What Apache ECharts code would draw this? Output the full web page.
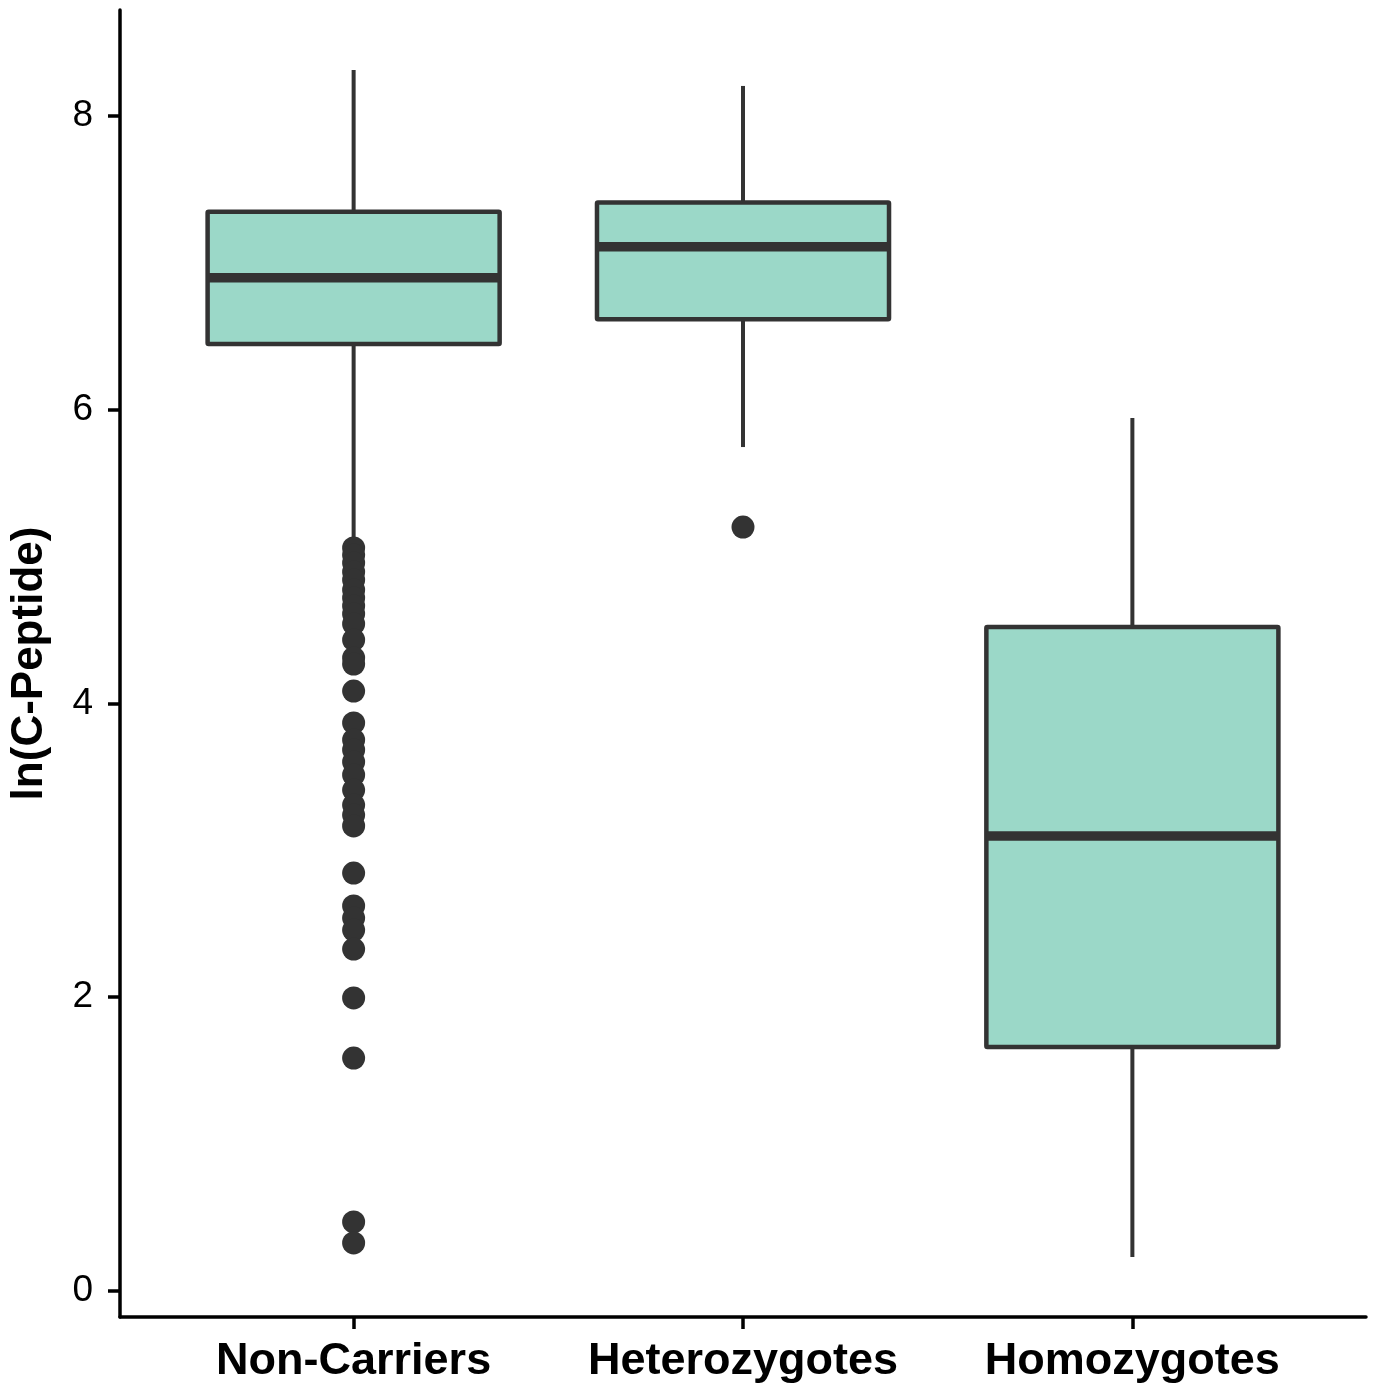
<!DOCTYPE html>
<html>
<head>
<meta charset="utf-8">
<script src="https://cdn.jsdelivr.net/npm/echarts@6/dist/echarts.min.js"></script>
<style>
html,body{margin:0;padding:0;background:#fff;}
#chart{width:1374px;height:1386px;}
</style>
</head>
<body>
<div id="chart"></div>
<script>
// ---- data ----
var categories = ['Non-Carriers', 'Heterozygotes', 'Homozygotes'];
// [lower whisker, Q1, median, Q3, upper whisker]
var boxNonCarriers  = [5.12, 6.447, 6.898, 7.347, 8.312];
var boxHeterozygotes = [5.745, 6.615, 7.109, 7.410, 8.203];
var boxHomozygotes  = [0.231, 1.661, 3.097, 4.520, 5.943];
var outliersNonCarriers = [5.058, 5.010, 4.956, 4.895, 4.840, 4.772, 4.718, 4.663, 4.609, 4.541,
  4.432, 4.309, 4.268, 4.084, 3.867, 3.751, 3.683, 3.601, 3.513, 3.410, 3.308, 3.240, 3.166,
  2.845, 2.621, 2.539, 2.457, 2.328, 1.995, 1.586, 0.470, 0.327];
var outliersHeterozygotes = [5.20];
var outliersHomozygotes = [];
var yTicks = [0, 2, 4, 6, 8];
var xTicks = [1, 2, 3];

var boxes = [boxNonCarriers, boxHeterozygotes, boxHomozygotes];
var outlierSets = [outliersNonCarriers, outliersHeterozygotes, outliersHomozygotes];

var boxData = boxes.map(function (b, i) { return [i + 1].concat(b); });
var outlierData = [];
outlierSets.forEach(function (set, i) {
  set.forEach(function (v) { outlierData.push([i + 1, v]); });
});

var dark = '#333333';
var fill = '#9bd8c8';

function renderBox(params, api) {
  var x = api.value(0);
  var lo = api.coord([x, api.value(1)]);
  var q1 = api.coord([x, api.value(2)]);
  var med = api.coord([x, api.value(3)]);
  var q3 = api.coord([x, api.value(4)]);
  var hi = api.coord([x, api.value(5)]);
  var w = api.size([1, 0])[0] * 0.75;
  var cx = q1[0];
  return {
    type: 'group',
    children: [
      { type: 'line', shape: { x1: cx, y1: q3[1], x2: cx, y2: hi[1] },
        style: { stroke: dark, lineWidth: 4 } },
      { type: 'line', shape: { x1: cx, y1: q1[1], x2: cx, y2: lo[1] },
        style: { stroke: dark, lineWidth: 4 } },
      { type: 'rect', shape: { x: cx - w / 2, y: q3[1], width: w, height: q1[1] - q3[1], r: 1 },
        style: { fill: fill, stroke: dark, lineWidth: 4.5 } },
      { type: 'line', shape: { x1: cx - w / 2, y1: med[1], x2: cx + w / 2, y2: med[1] },
        style: { stroke: dark, lineWidth: 9.5 } }
    ]
  };
}

var chart = echarts.init(document.getElementById('chart'), null, { renderer: 'canvas' });
chart.setOption({
  animation: false,
  backgroundColor: '#ffffff',
  grid: { left: 116, right: 8, top: 10, bottom: 69, containLabel: false },
  xAxis: {
    type: 'value',
    min: 0.4,
    max: 3.6,
    splitLine: { show: false },
    axisLine: { show: true, onZero: false, lineStyle: { color: '#000', width: 3.5 } },
    axisTick: { show: true, customValues: xTicks, length: 12, lineStyle: { color: '#000', width: 3.5 } },
    axisLabel: {
      show: true, customValues: xTicks, margin: 22,
      color: '#000', fontFamily: 'Liberation Sans, Arial, sans-serif', fontWeight: 'bold', fontSize: 45,
      formatter: function (v) { return categories[Math.round(v) - 1]; }
    }
  },
  yAxis: {
    type: 'value',
    min: -0.177,
    max: 8.72,
    name: 'ln(C-Peptide)',
    nameLocation: 'middle',
    nameGap: 68,
    nameRotate: 90,
    nameTextStyle: { color: '#000', fontFamily: 'Liberation Sans, Arial, sans-serif', fontWeight: 'bold', fontSize: 44 },
    splitLine: { show: false },
    axisLine: { show: true, onZero: false, lineStyle: { color: '#000', width: 3.5 } },
    axisTick: { show: true, customValues: yTicks, length: 12, lineStyle: { color: '#000', width: 3.5 } },
    axisLabel: {
      show: true, customValues: yTicks, margin: 27,
      color: '#000', fontFamily: 'Liberation Sans, Arial, sans-serif', fontSize: 37
    }
  },
  series: [
    {
      type: 'custom',
      renderItem: renderBox,
      data: boxData,
      encode: { x: 0, y: [1, 2, 3, 4, 5] },
      z: 2
    },
    {
      type: 'scatter',
      data: outlierData,
      symbol: 'circle',
      symbolSize: 23,
      itemStyle: { color: dark, opacity: 1 },
      z: 3
    }
  ]
});
</script>
</body>
</html>
